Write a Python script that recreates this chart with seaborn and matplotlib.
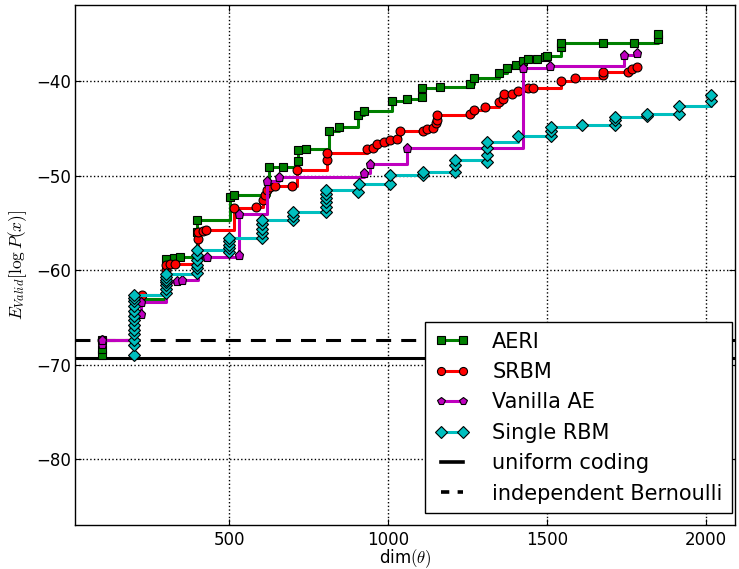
import numpy as np
import pandas as pd
import seaborn as sns
import matplotlib
matplotlib.use("Agg")
import matplotlib.pyplot as plt
from matplotlib.lines import Line2D

# ---------------- data ----------------
aeri_x = [100, 100, 100, 200, 200, 300, 300, 325, 346, 400, 400, 503, 514, 624, 671,
          718, 718, 742, 814, 847, 907, 925, 1011, 1059, 1108, 1108, 1164, 1258, 1270,
          1350, 1375, 1403, 1426, 1441, 1468, 1494, 1499, 1544, 1544, 1677, 1774, 1850, 1850]
aeri_y = [-69.0, -68.4, -67.4, -64.5, -63.0, -60.5, -58.8, -58.7, -58.6, -55.9, -54.7, -52.2, -52.0,
          -49.1, -49.1, -48.4, -47.3, -47.2, -45.2, -44.8, -43.6, -43.1, -42.1, -41.9, -41.6, -40.7,
          -40.6, -40.3, -39.6, -39.1, -38.6, -38.3, -37.8, -37.6, -37.6, -37.4, -37.3, -36.4, -35.9,
          -35.9, -35.9, -35.5, -35.0]

srbm_x = [100, 200, 200, 200, 225, 300, 300, 314, 330, 403, 403, 419, 428, 514, 585, 606, 613,
          618, 629, 645, 697, 713, 807, 807, 933, 954, 964, 987, 1006, 1027, 1038, 1109, 1122,
          1142, 1151, 1153, 1153, 1258, 1270, 1305, 1350, 1363, 1365, 1389, 1410, 1441, 1455,
          1544, 1588, 1677, 1677, 1756, 1769, 1782]
srbm_y = [-67.4, -66.0, -64.5, -63.2, -62.6, -60.0, -59.4, -59.3, -59.3, -56.7, -56.0, -55.8, -55.7,
          -53.4, -53.3, -52.6, -52.0, -51.5, -51.2, -51.1, -51.1, -49.4, -48.3, -47.6, -47.2, -47.0,
          -46.6, -46.4, -46.2, -46.1, -45.2, -45.2, -45.0, -44.9, -44.4, -44.1, -43.6, -43.5, -43.0,
          -42.7, -42.2, -41.9, -41.3, -41.3, -41.0, -40.7, -40.7, -40.0, -39.6, -39.3, -39.0, -39.0,
          -38.7, -38.5]

vae_x = [100, 100, 200, 200, 222, 222, 300, 335, 351, 403, 430, 531, 531, 620, 658, 925, 943,
         1059, 1425, 1509, 1742, 1782]
vae_y = [-67.8, -67.4, -66.5, -65.0, -64.6, -63.4, -61.3, -61.1, -61.0, -58.7, -58.6, -58.4, -54.0,
         -50.5, -50.1, -49.7, -48.75, -47.1, -38.6, -38.4, -37.2, -37.0]

rbm_x = ([200] * 13 + [300] * 7 + [400] * 6 + [500] * 5 + [603] * 5 + [702] * 3 + [805] * 6 +
         [907, 910, 1006, 1006, 1109, 1109, 1211, 1211, 1211, 1310, 1310, 1310, 1310, 1410,
          1512, 1512, 1512, 1612, 1714, 1714, 1714, 1815, 1815, 1916, 1916, 2018, 2018])
rbm_y = [-69.0, -67.9, -67.4, -66.8, -66.3, -65.8, -65.3, -64.8, -64.3, -63.8, -63.3, -62.9, -62.6,
         -62.4, -62.0, -61.6, -61.3, -61.0, -60.7, -60.4,
         -60.3, -59.8, -59.4, -58.9, -58.4, -57.9,
         -58.1, -57.7, -57.3, -56.9, -56.6,
         -56.6, -56.1, -55.6, -55.1, -54.7,
         -54.7, -54.3, -53.8,
         -53.8, -53.3, -52.8, -52.3, -51.9, -51.5,
         -51.7, -50.9, -50.9, -49.9, -49.9, -49.6, -49.6, -48.9, -48.3, -48.5, -47.8, -47.1, -46.4,
         -45.8, -45.8, -45.2, -44.8, -44.6, -44.6, -44.1, -43.8, -43.7, -43.5, -43.5, -42.6,
         -42.05, -41.45]

uniform_coding = -69.31
indep_bernoulli = -67.4

series_names = ["AERI", "SRBM", "Vanilla AE", "Single RBM"]
ref_names = ["uniform coding", "independent Bernoulli"]

# ---------------- style ----------------
plt.rcParams.update({
    "font.family": ["DejaVu Sans"],
    "font.size": 12,
    "mathtext.fontset": "cm",
    "xtick.direction": "in",
    "ytick.direction": "in",
    "xtick.top": True,
    "ytick.right": True,
    "xtick.major.size": 4,
    "ytick.major.size": 4,
    "xtick.major.pad": 4.5,
    "ytick.major.pad": 3,
    "axes.linewidth": 1.0,
})

fig = plt.figure(figsize=(7.39, 5.69), dpi=100)
ax = fig.add_axes([0.1015, 0.0773, 0.8931, 0.9139])

ax.grid(True, color="k", linestyle=":", linewidth=1.0)
ax.set_axisbelow(True)

DASH = (0, (4.9, 3.3))
ax.axhline(uniform_coding, color="k", linewidth=2.2, zorder=1.5)
ax.axhline(indep_bernoulli, color="k", linewidth=2.2, linestyle=DASH, zorder=1.5)

specs = [
    (aeri_x, aeri_y, "g", "s", 6.2),
    (srbm_x, srbm_y, "r", "o", 6.4),
    (vae_x, vae_y, (0.75, 0, 0.75), "p", 6.6),
    (rbm_x, rbm_y, (0, 0.75, 0.75), "D", 6.4),
]
handles = []
for (xs, ys, col, mk, ms), name in zip(specs, series_names):
    df = pd.DataFrame({"x": xs, "y": ys})
    sns.lineplot(data=df, x="x", y="y", estimator=None, sort=False, ax=ax,
                 color=col, marker=mk, markersize=ms, markeredgecolor="k",
                 markeredgewidth=0.8, linewidth=2.2, drawstyle="steps-post",
                 legend=False)
    handles.append(Line2D([], [], color=col, marker=mk, markersize=ms - 0.6,
                          markeredgecolor="k", markeredgewidth=0.8, linewidth=2.2))
handles.append(Line2D([], [], color="k", linewidth=2.6))
handles.append(Line2D([], [], color="k", linewidth=2.6, linestyle=(0, (2.3, 2.3))))

ax.set_xlim(15, 2092)
ax.set_ylim(-87, -31.9)
ax.set_xticks([500, 1000, 1500, 2000])
ax.set_yticks([-80, -70, -60, -50, -40])
ax.set_xlabel(r"dim$(\theta)$", fontsize=12)
ax.xaxis.set_label_coords(0.5, -0.042)
ax.set_ylabel(r"$E_{Valid}[\log P(x)]$", fontsize=12.5)
ax.yaxis.set_label_coords(-0.069, 0.5)

leg = ax.legend(handles, series_names + ref_names, loc="lower right",
                bbox_to_anchor=(0.9955, 0.023), borderaxespad=0, numpoints=2,
                fancybox=False, framealpha=1, edgecolor="k", fontsize=15,
                handlelength=1.66, handletextpad=1.1, labelspacing=0.5,
                borderpad=0.45)
leg.get_frame().set_linewidth(1.0)

fig.savefig("out.png", dpi=100)
